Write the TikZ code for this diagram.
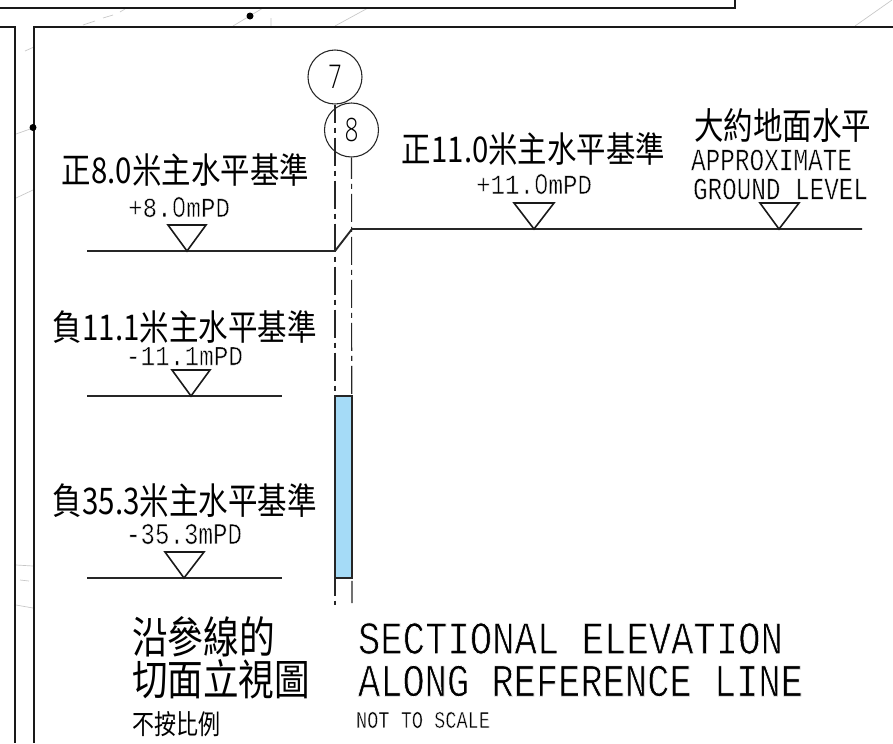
\documentclass[tikz,border=0pt]{standalone}
\usepackage{fontspec}
\usepackage{graphicx}
\setmainfont{Liberation Sans}
\newfontfamily\cjkf{Noto Sans CJK TC}
\newfontfamily\cadf{Liberation Mono}
\newfontfamily\cadz{Open Sans}[UprightFont=* Light]
\newfontfamily\cadn{Open Sans}
\newcommand{\fit}[3]{\resizebox{#1pt}{#2pt}{#3}}
\newcommand{\cj}[3]{\fit{\fpeval{#1*0.75}}{\fpeval{#2*0.75}}{\cjkf #3}}
\newcommand{\thinned}[2]{\special{pdf:literal q 2 Tr 1 1 1 RG #1 w}#2\special{pdf:literal Q}}
\newcommand{\cad}[3]{\fit{\fpeval{#1*0.75}}{\fpeval{#2*0.75}}{\thinned{0.16}{\cadf #3}}}
\newcommand{\zr}{\makebox[0.6em]{\cadn 0}}
\tikzset{
  lbl/.style={inner sep=0pt,outer sep=0pt,anchor=center},
  frameline/.style={line width=1.5pt,black!90},
  levelline/.style={line width=1.4pt,black!85},
  tri/.style={line width=1.2pt,black!90,line join=miter},
  faint/.style={line width=0.5pt,black!22},
  refline/.style={line width=0.8pt,black!85,dash pattern=on 21pt off 3.75pt on 3.75pt off 3.75pt},
  bubble/.style={circle,draw=black!85,line width=0.8pt,minimum size=40.5pt,inner sep=0pt}
}
\definecolor{wallblue}{HTML}{A5DBF7}
\begin{document}
\begin{tikzpicture}[x=0.75pt,y=-0.75pt]
\useasboundingbox (0,0) rectangle (893,743);
\fill[white] (0,0) rectangle (893,743);
% faint background lines
\draw[faint] (83,25)--(95,21) (103,18)--(113,15) (120,12)--(125,9);
\draw[faint] (25,51)--(34,47) (16,134)--(33,128) (16,198)--(33,190);
\draw[faint] (233,26)--(263,8) (335,26)--(368,8) (855,26)--(892,0) (271,18)--(271,27);
\draw[faint] (16,565)--(33,566) (20,580)--(29,581) (16,605)--(33,608);
% frames
\draw[frameline] (0,8)--(735,8)--(735,0);
\draw[frameline] (893,27)--(34,27)--(34,743);
\draw[frameline] (0,27)--(15,27)--(15,743);
\fill[black] (250,16) circle (3.5);
\fill[black] (33,127.5) circle (3.5);
% bubbles
\node[bubble] (c7) at (335,77) {};
\node[bubble] (c8) at (351.5,130) {};
\node[lbl] at (c7) {\fit{10}{17.5}{\cadz 7}};
\node[lbl] at (c8) {\fit{10.5}{17.5}{\cadz 8}};
% reference lines
\coordinate (r7) at (335,605);
\coordinate (r8) at (352,603);
\draw[refline,dash phase=7.5pt] (c7.south)--(r7);
\draw[refline,dash phase=5pt] (c8.south)--(r8);
% wall
\node[draw=black!85,line width=0.9pt,fill=wallblue,inner sep=0pt,minimum width=12.75pt,minimum height=136.5pt] (wall) at (343.5,487) {};
% levels
\draw[levelline] (87,251)--(335,251)--(352,229)--(862,229);
\draw[levelline] (87,396)--(282,396);
\draw[levelline] (87,578)--(282,578);
\draw[tri] (168,225)--(206,225)--(187,251)--cycle;
\draw[tri] (514,203)--(554,203)--(534,229)--cycle;
\draw[tri] (760,203)--(799,203)--(779,229)--cycle;
\draw[tri] (172,370)--(210,370)--(191,396)--cycle;
\draw[tri] (165,552)--(204,552)--(184,578)--cycle;
% texts
\node[lbl] (t1) at (185.5,170) {\cj{247}{30}{正8.0米主水平基準}};
\node[lbl] (t1e) at (179,207) {\cad{102}{20}{+8.\zr mPD}};
\node[lbl] (t2) at (533.5,149) {\cj{263}{30}{正11.0米主水平基準}};
\node[lbl] (t2e) at (534,184) {\cad{116}{20}{+11.\zr mPD}};
\node[lbl] (t3) at (782.5,125) {\cj{177}{31}{大約地面水平}};
\node[lbl] (t3a) at (771.5,160) {\cad{161}{21}{APPROXIMATE}};
\node[lbl] (t3b) at (780.5,189) {\cad{175}{21}{GROUND LEVEL}};
\node[lbl] (t4) at (185,327) {\cj{264}{30}{負11.1米主水平基準}};
\node[lbl] (t4e) at (184.5,356) {\cad{117}{18}{-11.1mPD}};
\node[lbl] (t5) at (185,501) {\cj{264}{31}{負35.3米主水平基準}};
\node[lbl] (t5e) at (184,534) {\cad{116}{20}{-35.3mPD}};
\node[lbl] (t6) at (203.5,637) {\cj{143}{37}{沿參線的}};
\node[lbl] (t7) at (221,679) {\cj{178}{36}{切面立視圖}};
\node[lbl] (t8) at (176,724) {\cj{88}{23}{不按比例}};
\node[lbl] (t9) at (570.5,638.5) {\cad{425}{31}{SECTIONAL ELEVATION}};
\node[lbl] (t10) at (580.5,681) {\cad{445}{31}{ALONG REFERENCE LINE}};
\node[lbl] (t11) at (423,720) {\cad{134}{16}{NOT TO SCALE}};
\end{tikzpicture}
\end{document}
